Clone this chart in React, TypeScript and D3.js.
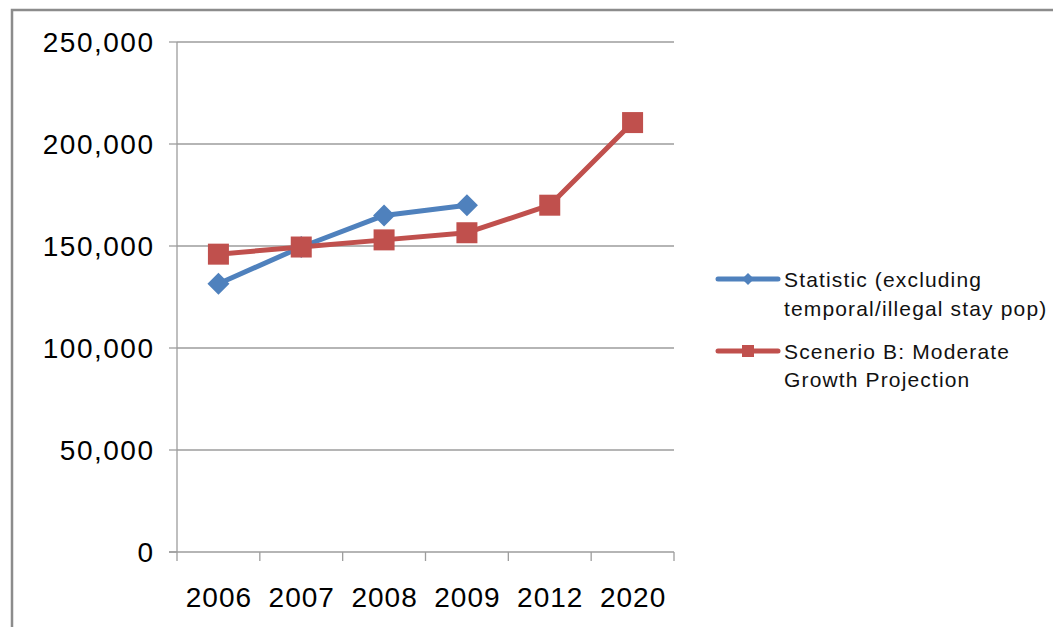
import React from "react";
import * as d3 from "d3";

const categories = ["2006", "2007", "2008", "2009", "2012", "2020"];
const statisticValues: (number | null)[] = [131500, 149500, 165000, 170000, null, null];
const scenarioValues: (number | null)[] = [146000, 149500, 153000, 156500, 170000, 210500];
const yTicks = [0, 50000, 100000, 150000, 200000, 250000];
const legendStatistic = ["Statistic (excluding", "temporal/illegal stay pop)"];
const legendScenario = ["Scenerio B: Moderate", "Growth Projection"];

const W = 1061;
const H = 635;
const plot = { left: 177, right: 674, top: 42, bottom: 552 };
const BLUE = "#4F81BD";
const RED = "#C0504D";
const GRID = "#9d9d9d";
const FONT = "'Liberation Sans', Arial, sans-serif";

export default function App() {
  const x = d3.scaleBand<string>().domain(categories).range([plot.left, plot.right]);
  const y = d3.scaleLinear().domain([0, 250000]).range([plot.bottom, plot.top]);
  const cx = (c: string) => (x(c) as number) + x.bandwidth() / 2;

  const line = d3
    .line<[string, number | null]>()
    .defined((d) => d[1] !== null)
    .x((d) => cx(d[0]))
    .y((d) => y(d[1] as number));

  const statPts = categories.map((c, i) => [c, statisticValues[i]] as [string, number | null]);
  const scenPts = categories.map((c, i) => [c, scenarioValues[i]] as [string, number | null]);
  const fmt = d3.format(",");

  const diamond = (px: number, py: number, r: number) =>
    `M${px},${py - r}L${px + r},${py}L${px},${py + r}L${px - r},${py}Z`;

  return (
    <div style={{ margin: -8 }}>
      <svg width={W} height={H} style={{ display: "block", background: "#fff" }}>
        <rect x={12} y={10} width={1060} height={640} fill="#fff" stroke="#8c8c8c" strokeWidth={2.5} />

        {/* horizontal grid */}
        {yTicks.map((t) => (
          <g key={t}>
            {t > 0 && (
              <line x1={plot.left} x2={plot.right} y1={y(t)} y2={y(t)} stroke={GRID} strokeWidth={1.3} />
            )}
            <line x1={plot.left - 8} x2={plot.left} y1={y(t)} y2={y(t)} stroke={GRID} strokeWidth={1.3} />
            <text
              x={154.5}
              y={y(t)}
              dy="0.36em"
              textAnchor="end"
              fontFamily={FONT}
              fontSize={28}
              letterSpacing={1.5}
              fill="#000"
            >
              {fmt(t)}
            </text>
          </g>
        ))}

        {/* axes */}
        <line x1={plot.left} x2={plot.left} y1={plot.top} y2={plot.bottom} stroke={GRID} strokeWidth={1.3} />
        <line x1={plot.left - 8} x2={plot.right} y1={plot.bottom} y2={plot.bottom} stroke={GRID} strokeWidth={1.3} />
        {d3.range(categories.length + 1).map((i) => {
          const px = plot.left + i * x.step();
          return (
            <line key={i} x1={px} x2={px} y1={plot.bottom} y2={plot.bottom + 9} stroke={GRID} strokeWidth={1.3} />
          );
        })}
        {categories.map((c) => (
          <text
            key={c}
            x={cx(c) + 0.5}
            y={597}
            dy="0.36em"
            textAnchor="middle"
            fontFamily={FONT}
            fontSize={28}
            letterSpacing={1}
            fill="#000"
          >
            {c}
          </text>
        ))}

        {/* series */}
        <path d={line(statPts) || ""} fill="none" stroke={BLUE} strokeWidth={5} strokeLinejoin="round" />
        <path d={line(scenPts) || ""} fill="none" stroke={RED} strokeWidth={5} strokeLinejoin="round" />
        {statPts
          .filter((d) => d[1] !== null)
          .map((d) => (
            <path key={d[0]} d={diamond(cx(d[0]), y(d[1] as number), 11)} fill={BLUE} />
          ))}
        {scenPts
          .filter((d) => d[1] !== null)
          .map((d) => (
            <rect
              key={d[0]}
              x={cx(d[0]) - 10.5}
              y={y(d[1] as number) - 10.5}
              width={21}
              height={21}
              fill={RED}
            />
          ))}

        {/* legend */}
        <g fontFamily={FONT} fontSize={21} letterSpacing={1.15} fill="#111">
          <line x1={718} x2={778} y1={279} y2={279} stroke={BLUE} strokeWidth={5} strokeLinecap="round" />
          <path d={diamond(748, 279, 6)} fill={BLUE} />
          {legendStatistic.map((t, i) => (
            <text key={t} x={784} y={279 + i * 29} dy="0.36em">
              {t}
            </text>
          ))}
          <line x1={718} x2={778} y1={351} y2={351} stroke={RED} strokeWidth={5} strokeLinecap="round" />
          <rect x={742} y={345} width={12} height={12} fill={RED} />
          {legendScenario.map((t, i) => (
            <text key={t} x={784} y={351 + i * 28} dy="0.36em">
              {t}
            </text>
          ))}
        </g>
      </svg>
    </div>
  );
}
